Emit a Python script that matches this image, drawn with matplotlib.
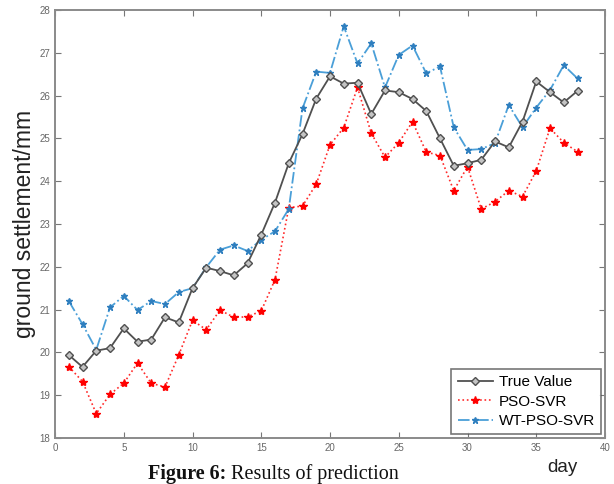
import matplotlib
matplotlib.use("Agg")
import matplotlib.pyplot as plt

days = list(range(1, 39))
true_value = [19.94, 19.66, 20.04, 20.10, 20.56, 20.25, 20.30, 20.82, 20.70, 21.50,
              21.98, 21.90, 21.80, 22.08, 22.75, 23.50, 24.42, 25.10, 25.93, 26.45,
              26.28, 26.30, 25.57, 26.12, 26.08, 25.92, 25.64, 25.00, 24.36, 24.42,
              24.50, 24.93, 24.79, 25.39, 26.33, 26.08, 25.84, 26.11]
pso_svr = [19.67, 19.32, 18.57, 19.02, 19.28, 19.75, 19.28, 19.19, 19.94, 20.75,
           20.53, 20.99, 20.82, 20.83, 20.97, 21.70, 23.38, 23.42, 23.93, 24.85,
           25.25, 26.19, 25.12, 24.56, 24.90, 25.39, 24.68, 24.60, 23.78, 24.34,
           23.35, 23.52, 23.78, 23.64, 24.24, 25.24, 24.90, 24.69]
wt_pso_svr = [21.20, 20.66, 20.06, 21.05, 21.32, 20.99, 21.20, 21.13, 21.41, 21.50,
              21.99, 22.40, 22.50, 22.37, 22.63, 22.83, 23.35, 25.70, 26.56, 26.53,
              27.62, 26.75, 27.22, 26.19, 26.95, 27.17, 26.52, 26.68, 25.26, 24.73,
              24.75, 24.89, 25.78, 25.26, 25.72, 26.13, 26.71, 26.40]
xticks = [0, 5, 10, 15, 20, 25, 30, 35, 40]
yticks = [18, 19, 20, 21, 22, 23, 24, 25, 26, 27, 28]

plt.rcParams['font.family'] = ['Liberation Sans', 'DejaVu Sans']

fig = plt.figure(figsize=(6.14, 4.84), dpi=100)
ax = fig.add_axes([55/614, 1-438/484, 550/614, 428/484])

ax.plot(days, true_value, '-', color='#505050', lw=1.3, marker='D', ms=4.5,
        mfc='#c4c4c4', mec='#505050', mew=1.0, label='True Value', zorder=3)
ax.plot(days, pso_svr, ':', color='#ff2a2a', lw=1.2, marker='*', ms=6,
        mfc='#ff0000', mec='#ff0000', label='PSO-SVR', zorder=2)
ax.plot(days, wt_pso_svr, '-.', color='#4a9fd8', lw=1.3, marker='*', ms=5,
        mfc='#2f7fbf', mec='#2f7fbf', label='WT-PSO-SVR', zorder=2)

ax.set_xlim(0, 40)
ax.set_ylim(18, 28)
ax.set_xticks(xticks)
ax.set_yticks(yticks)
ax.tick_params(direction='in', length=4, width=0.8, colors='#777777',
               labelsize=7, top=True, right=True, labelcolor='#666666')
for s in ax.spines.values():
    s.set_color('#8a8a8a')
    s.set_linewidth(1.4)

ax.set_ylabel('ground settlement/mm', fontsize=16.5, color='#222222', labelpad=2)

leg = ax.legend(loc='lower right', fontsize=11, frameon=True, fancybox=False,
                edgecolor='#555555', handlelength=2.3, borderpad=0.4,
                labelspacing=0.35, borderaxespad=0.25, handletextpad=0.4)
leg.get_frame().set_linewidth(1.2)

fig.text(562/614, 1-467/484, 'day', fontsize=13.5, ha='center', va='center',
         color='#222222')

cap_y = 1 - 479/484
t1 = fig.text(148/614, cap_y, 'Figure 6:', fontsize=14.5, fontweight='bold',
              family='Liberation Serif', ha='left', va='baseline', color='#111111')
fig.canvas.draw()
r = fig.canvas.get_renderer()
bb = t1.get_window_extent(renderer=r)
x2 = (bb.x1 + 5) / fig.bbox.width
fig.text(x2, cap_y, 'Results of prediction', fontsize=14.5,
         family='Liberation Serif', ha='left', va='baseline', color='#111111')

fig.savefig('out.png', dpi=100)
